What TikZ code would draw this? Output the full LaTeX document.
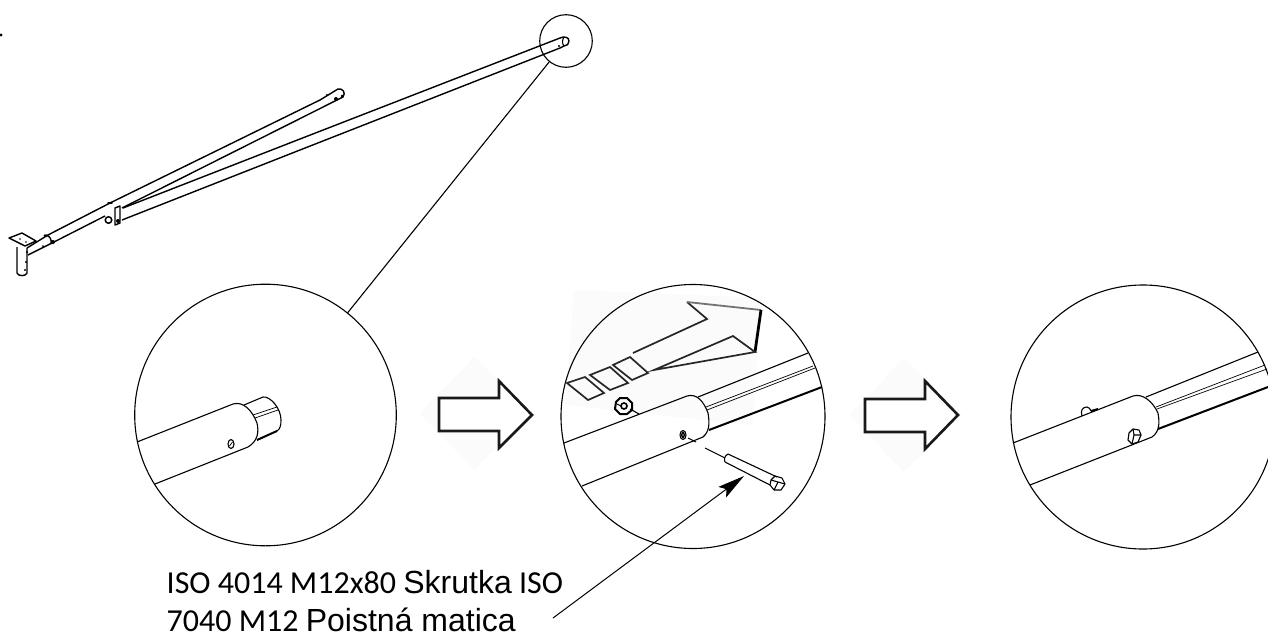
\documentclass[tikz,border=0pt]{standalone}
\usepackage{fontspec}
\usepackage{xcolor}
\usetikzlibrary{arrows.meta}
\setmainfont{Carlito}
\newfontfamily\skrutkafont{Liberation Sans}
\tikzset{
	lens/.style={circle, inner sep=0pt, draw=black, line width=1.1pt},
	part/.style={draw=black, line width=1.1pt, line join=round},
	boom/.style={draw=black, line width=1.4pt, line join=round},
	heavy/.style={draw=black, line width=2pt},
	fine/.style={draw=black, line width=0.7pt},
	step arrow/.style={draw=black!90, line width=2.6pt, fill=white, line join=miter},
	sketch/.style={draw=black!85, line width=1.7pt, line join=miter},
	faint/.style={fill=black!1.5, draw=none},
	label/.style={anchor=base west, inner sep=0pt, font=\fontsize{32}{38}\selectfont}
}
\begin{document}
\begin{tikzpicture}[x=1pt, y=-1pt]
	\useasboundingbox (0,0) rectangle (1268,637);
	\fill[white] (0,0) rectangle (1268,637);
	% pale patches
	\fill[faint] (420,413) -- (474,357) -- (532,413) -- (474,470) -- cycle;
	\fill[faint] (850,415) -- (904,358) -- (962,415) -- (904,472) -- cycle;
	\fill[faint] (565,405) -- (574,290) -- (762,298) -- (752,425) -- cycle;
	\fill (1,35) circle (1.6);
	% lenses
	\node[lens, minimum size=52.6pt] at (566,41)(lens0){};
	\node[lens, minimum size=261.6pt] at (265.5,415)(lens1){};
	\node[lens, minimum size=264pt] at (693,416.5)(lens2){};
	\node[lens, minimum size=264pt] at (1143,417)(lens3){};
	\draw[part](lens0) -- (lens1);
	% whole boom
	\draw[boom] (9,238) -- (22,233) -- (36,241) -- (25,246) -- cycle;
	\draw[boom] (17,247) -- (17,273) .. controls (18,276.5) and (26,276.5) .. (27,273) -- (27,248);
	\draw[boom] (27,248) -- (48,235) -- (110,203) -- (320,100) -- (338,89) .. controls (343,88) and (346,93) .. (343,97) -- (337,100) -- (122,208);
	\draw[boom] (28,255) -- (52,243) -- (105,216);
	\draw[boom] (46,235) .. controls (50,236) and (52,240) .. (51,244);
	\draw[boom] (123,208) -- (300,139) -- (560,38) .. controls (564,36) and (569,37) .. (569,41) .. controls (569,44) and (567,46) .. (564,46) -- (560,48) -- (300,150) -- (122,220);
	\draw[part] (564,37) .. controls (562,40) and (562,44) .. (564,46);
	\draw[boom] (115,208) -- (120,206) -- (120,223) -- (115,225) -- cycle;
	\node[circle, minimum size=6.5pt, inner sep=0pt, draw=black, line width=1.5pt] at (108.5,220)(ring0){};
	\fill (118,221) circle (2);
	\fill (53,242) circle (2);
	\fill (45,235.5) circle (1.5);
	\fill (110,203) ellipse (3 and 1);
	\fill (336,99) circle (2);
	\fill (342,96) circle (1.5);
	\fill (327,95) circle (1.2);
	\fill (559,46) circle (1.2);
	\fill (43,246) circle (1);
	\fill (27,252) circle (1.2);
	\fill (26,262) circle (1.2);
	\fill (25,270) circle (1.2);
	\fill (20,239) circle (.8);
	\fill (26,242) circle (.8);
	% detail one
	\draw[part] (137,442) -- (233,404) .. controls (243,401) and (252,410) .. (257,423) .. controls (259,432) and (258,441) .. (248,447) -- (155,484);
	\draw[part] (244,405) -- (263,397) .. controls (270,396) and (281,408) .. (281,420) .. controls (281,426) and (280,429) .. (277,431);
	\draw[heavy] (257,440) -- (277,431);
	\draw[fine] (253,415) -- (277,407);
	\draw[fine] (255,418) -- (278,410);
	\draw[part] (231,444) ellipse (3 and 4.5);
	\draw[fine] (229.5,446) -- (232.5,442);
	% first arrow
	\draw[step arrow] (439,398) -- (499,398) -- (499,381) -- (532,415) -- (499,448) -- (499,431) -- (439,431) -- cycle;
	% detail two, hand drawn arrow
	\draw[sketch] (633,353) -- (707,319) -- (687,302);
	\draw[draw=black!55, line width=1.8pt] (687,302) -- (761,310);
	\draw[draw=black, line width=2.8pt] (761,310) -- (755,352);
	\draw[sketch] (755,352) -- (733,336) -- (654,370) -- cycle;
	\draw[sketch] (567,383) -- (585,377) -- (604,393) -- (588,400) -- cycle;
	\draw[sketch] (590,375) -- (610,367) -- (628,383) -- (610,390) -- cycle;
	\draw[sketch] (613,365) -- (630,357) -- (648,373) -- (632,380) -- cycle;
	% detail two, tube
	\draw[part] (564,443) -- (687,396) .. controls (697,393) and (704,402) .. (708,413) .. controls (710,424) and (709,432) .. (703,437) -- (582,486);
	\draw[part] (698,397) -- (808,353);
	\draw[fine] (706,407) -- (813,366);
	\draw[fine] (707,410) -- (815,368);
	\draw[heavy] (709,430) -- (822,387);
	% nut, bolt, hole
	\draw[draw=black, line width=2pt, line join=round] (616,402) -- (620,398) -- (627,398) -- (632,403) -- (632,410) -- (627,414) -- (620,414) -- (615,409) -- cycle;
	\node[circle, minimum size=6pt, inner sep=0pt, draw=black, line width=1.6pt] at (624,406)(nut1){};
	\draw[part] (617,404) -- (621,406);
	\draw[part] (630,409) -- (639,414);
	\draw[part] (683,435) ellipse (3 and 4.5);
	\draw[line width=1.4pt] (683,435) ellipse (1.2 and 2.5);
	\draw[part] (688,438) -- (696,442);
	\draw[part] (705,448) -- (725,458);
	\draw[part] (728,454) -- (777,477);
	\draw[part] (725,462) -- (770,485);
	\draw[part] (728,454) .. controls (724,456) and (724,460) .. (725,462);
	\draw[part] (775,476) -- (782,478) -- (785,484) -- (781,490) -- (774,490) -- (770,485) -- (771,480) -- cycle;
	\draw[part] (771,480) -- (778,482) -- (785,484);
	\draw[part] (778,482) -- (774,490);
	% detail three
	\draw[part] (1013,443) -- (1133,396) .. controls (1143,393) and (1153,402) .. (1158,413) .. controls (1160,424) and (1159,432) .. (1152,437) -- (1030,485);
	\draw[part] (1146,397) -- (1258,352);
	\draw[fine] (1156,407) -- (1265,365);
	\draw[fine] (1157,409) -- (1267,369);
	\draw[heavy] (1158,429) -- (1268,387);
	\draw[part] (1082,416) .. controls (1080,410) and (1083,407) .. (1087,407) .. controls (1089,407) and (1090,409) .. (1091,411);
	\draw[heavy] (1091,411) -- (1098,409);
	\draw[part] (1129,433) -- (1133,429) -- (1139,430) -- (1141,435) -- (1138,442) -- (1132,444) -- (1128,440) -- cycle;
	\draw[part] (1133,429) -- (1134,435) -- (1141,435);
	\draw[part] (1134,435) -- (1132,444);
	% second arrow
	\draw[step arrow] (865,399) -- (925,399) -- (925,381) -- (958,415) -- (925,449) -- (925,432) -- (865,432) -- cycle;
	% callout
	\coordinate (leader0) at (553,618);
	\coordinate (leader1) at (744,476);
	\draw[line width=1pt, -{Stealth[length=27pt, width=13pt, inset=5pt]}](leader0) -- (leader1);
	\node[label] at (166.5,593)(text0){ISO 4014 M12x80 {\skrutkafont Skrutka} ISO};
	\node[label] at (166.5,631)(text1){7040 M12 {\skrutkafont Poistná matica}};
\end{tikzpicture}
\end{document}
